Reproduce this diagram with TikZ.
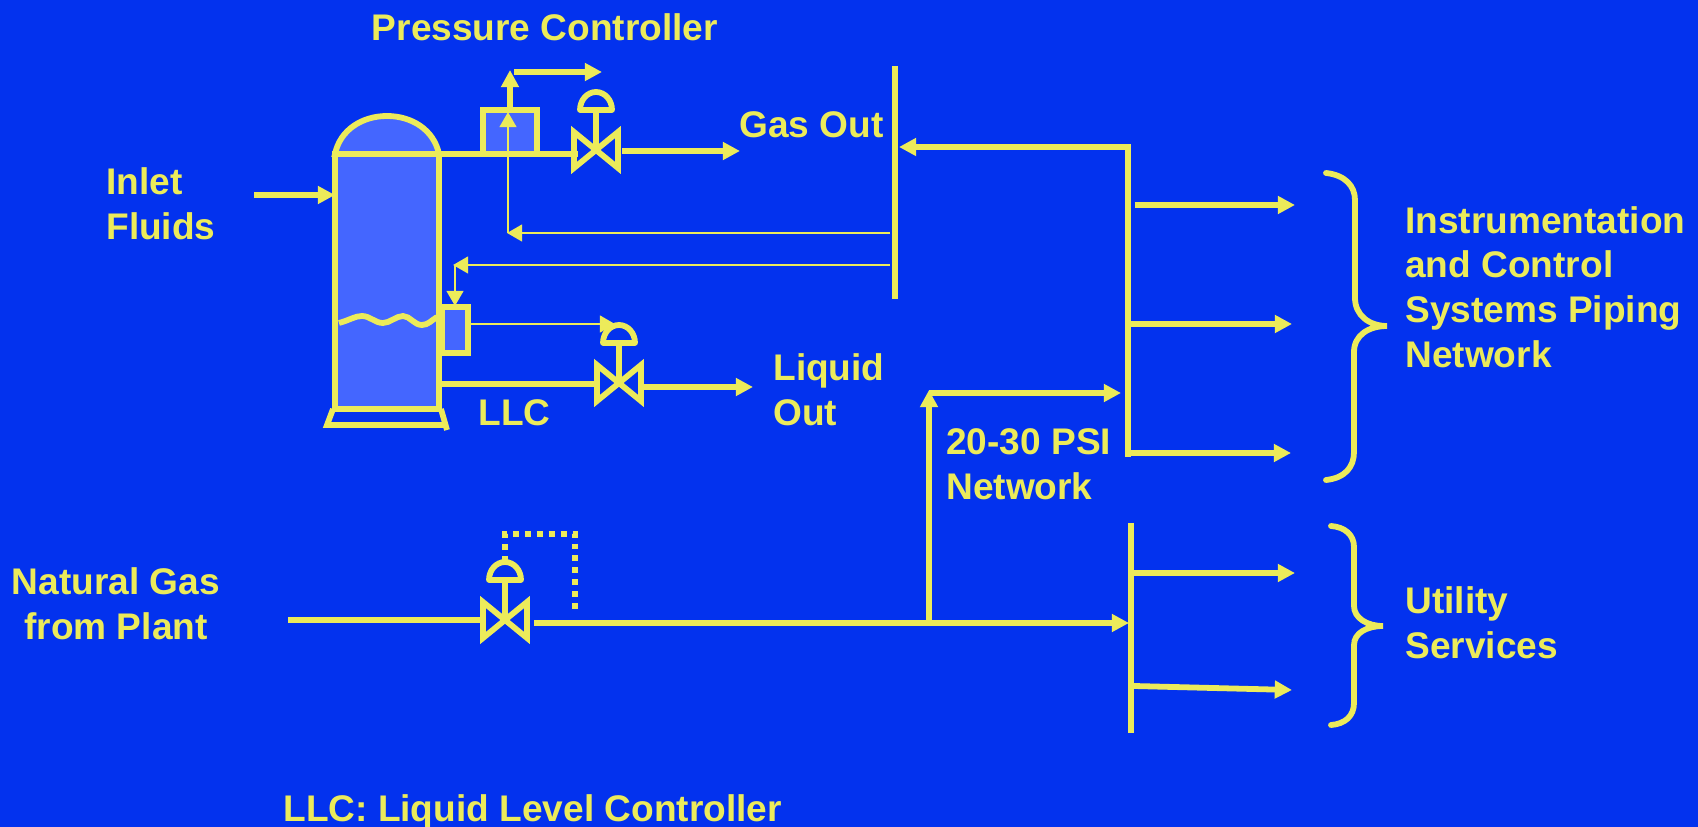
\documentclass[tikz,border=0pt]{standalone}
\usepackage{fontspec}
\setmainfont{Liberation Sans}
\usetikzlibrary{arrows.meta,calc}
\definecolor{SlideBlue}{HTML}{0332EE}
\definecolor{SlideYellow}{HTML}{ECEB5A}
\definecolor{DrumBlue}{HTML}{4466FF}
\tikzset{
  pipeline/.style={SlideYellow,line width=3.3pt},
  pipearrow/.style={pipeline,-{Triangle[length=9.8pt,width=9.8pt]}},
  sigline/.style={SlideYellow,line width=1.7pt},
  sigarrow/.style={sigline,-{Triangle[length=8.6pt,width=9.4pt]}},
  boxsym/.style={draw=SlideYellow,line width=3.4pt,fill=DrumBlue,inner sep=0pt,outer sep=0pt},
  label/.style={text=SlideYellow,inner sep=0pt,align=left,anchor=west,font=\fontsize{21.1}{25.5}\selectfont\bfseries},
  valvesym/.pic={
    \draw[pipeline,line join=miter] (-22,-18)--(22,18)--(22,-18)--(-22,18)--cycle;
    \draw[pipeline] (0,0)--(0,-40);
    \draw[pipeline,line join=round] (-16,-40) arc (180:360:16 and 18)--cycle;
    \coordinate (-top) at (0,-58);
  }
}
\begin{document}
\begin{tikzpicture}[x=0.02cm,y=-0.02cm]
  \useasboundingbox (0,0) rectangle (1698,827);
  \fill[SlideBlue] (0,0) rectangle (1698,827);
  % separator drum
  \node[boxsym,minimum width=2.08cm,minimum height=5.1cm] (drum) at (387,281.5) {};
  \draw[pipeline,fill=DrumBlue] (drum.north west) .. controls (340,130) and (362,116) .. (387,116) .. controls (412,116) and (434,130) .. (drum.north east)--cycle;
  \draw[pipeline] (333,409)--(327,425)--(446,425);
  \draw[pipeline] (441,409)--(447,430);
  \draw[pipeline] (339,323) .. controls (350,320) and (355,316) .. (362,316) .. controls (370,316) and (375,323) .. (383,323) .. controls (390,323) and (396,316) .. (403,316) .. controls (410,316) and (414,325) .. (422,325) .. controls (428,325) and (432,320) .. (437,317);
  % controllers and valves
  \node[boxsym,minimum width=1.08cm,minimum height=.88cm] (pc) at (510,132) {};
  \node[boxsym,minimum width=.52cm,minimum height=.92cm] (lc) at (455,330) {};
  \pic (gasvalve) at (596,150) {valvesym};
  \pic (liqvalve) at (619,383) {valvesym};
  \pic (ngvalve) at (505,620) {valvesym};
  % buses
  \coordinate (gastop) at (895,66);
  \coordinate (gasbot) at (895,299);
  \coordinate (instop) at (1128,147);
  \coordinate (insbot) at (1128,457);
  \coordinate (utiltop) at (1131,523);
  \coordinate (utilbot) at (1131,733);
  \foreach \x/\y in {gastop/gasbot,instop/insbot,utiltop/utilbot}{\draw[pipeline] (\x)--(\y);}
  % process lines
  \coordinate (inletfrom) at (254,195);
  \coordinate (inletto) at (335,195);
  \coordinate (gasfrom) at (439,154);
  \coordinate (gasto) at (578,154);
  \coordinate (gasoutfrom) at (622,151);
  \coordinate (gasoutto) at (740,151);
  \coordinate (liqfrom) at (439,384);
  \coordinate (liqto) at (596,384);
  \coordinate (liqoutfrom) at (643,387);
  \coordinate (liqoutto) at (753,387);
  \coordinate (ngfrom) at (288,620);
  \coordinate (ngto) at (481,620);
  \coordinate (ngoutfrom) at (534,623);
  \coordinate (ngoutto) at (1129,623);
  \coordinate (psifrom) at (929,623);
  \coordinate (psitop) at (929,390);
  \coordinate (psibranch) at (929,393);
  \coordinate (psito) at (1121,393);
  \foreach \x/\y in {gasfrom/gasto,liqfrom/liqto,ngfrom/ngto}{\draw[pipeline] (\x)--(\y);}
  \foreach \x/\y in {inletfrom/inletto,gasoutfrom/gasoutto,liqoutfrom/liqoutto,ngoutfrom/ngoutto,psifrom/psitop,psibranch/psito}{\draw[pipearrow] (\x)--(\y);}
  \coordinate (pcup) at (510,70);
  \coordinate (pcoutfrom) at (514,72);
  \coordinate (pcoutto) at (602,72);
  \draw[pipearrow] (pc.north)--(pcup);
  \draw[pipearrow] (pcoutfrom)--(pcoutto);
  % supply header and branches
  \coordinate (headfrom) at (1131,147);
  \coordinate (headto) at (899,147);
  \draw[pipearrow] (headfrom)--(headto);
  \coordinate (a1from) at (1135,205);
  \coordinate (a1to) at (1295,205);
  \coordinate (a2from) at (1130,324);
  \coordinate (a2to) at (1292,324);
  \coordinate (a3from) at (1130,453);
  \coordinate (a3to) at (1291,453);
  \coordinate (a4from) at (1134,573);
  \coordinate (a4to) at (1295,573);
  \coordinate (a5from) at (1134,686);
  \coordinate (a5to) at (1292,690);
  \foreach \x/\y in {a1from/a1to,a2from/a2to,a3from/a3to,a4from/a4to,a5from/a5to}{\draw[pipearrow] (\x)--(\y);}
  % signal lines
  \coordinate (pcsigfrom) at (890,233);
  \coordinate (pcsigto) at (507,233);
  \coordinate (pcsigrise) at (508,233);
  \coordinate (pcsigtip) at (508,112);
  \coordinate (lcsigfrom) at (890,265);
  \coordinate (lcsigto) at (453,265);
  \coordinate (lcsigdrop) at (455,265);
  \coordinate (lcsigtip) at (455,306);
  \coordinate (lcoutfrom) at (468,324);
  \coordinate (lcoutto) at (615,324);
  \foreach \x/\y in {pcsigfrom/pcsigto,pcsigrise/pcsigtip,lcsigfrom/lcsigto,lcsigdrop/lcsigtip,lcoutfrom/lcoutto}{\draw[sigarrow] (\x)--(\y);}
  \coordinate (ngdot1) at (505,534);
  \coordinate (ngdot2) at (575,534);
  \coordinate (ngdot3) at (575,615);
  \draw[SlideYellow,line width=3.4pt,dash pattern=on 3.4pt off 3.4pt] (ngvalve-top)--(ngdot1)--(ngdot2)--(ngdot3);
  % braces
  \draw[SlideYellow,line width=3.3pt,line cap=round] (1326,173) .. controls (1345,175) and (1355,186) .. (1355,200)--(1355,298) .. controls (1355,315) and (1369,326) .. (1387,326) .. controls (1369,326) and (1354,335) .. (1354,352)--(1354,452) .. controls (1354,467) and (1345,478) .. (1326,480);
  \draw[SlideYellow,line width=3.3pt,line cap=round] (1331,526) .. controls (1345,527) and (1354,535) .. (1354,547)--(1354,606) .. controls (1354,618) and (1367,626) .. (1383,626) .. controls (1367,626) and (1354,633) .. (1354,645)--(1354,703) .. controls (1354,716) and (1345,724) .. (1331,725);
  % labels
  \node[label,anchor=center] (pctext) at (545,27) {Pressure Controller};
  \node[label] (gastext) at (739,125) {Gas Out};
  \node[label] (inlettext) at (106,204) {Inlet\\Fluids};
  \node[label] (liqtext) at (773,390) {Liquid\\Out};
  \node[label] (llctext) at (478,413) {LLC};
  \node[label] (psitext) at (946,464) {20-30 PSI\\Network};
  \node[label,align=center,anchor=center] (ngtext) at (116,604) {Natural Gas\\from Plant};
  \node[label] (instext) at (1405,287) {Instrumentation\\and Control\\Systems Piping\\Network};
  \node[label] (utiltext) at (1405,623) {Utility\\Services};
  \node[label] (noteline) at (283,812) {LLC: Liquid Level Controller};
\end{tikzpicture}
\end{document}
